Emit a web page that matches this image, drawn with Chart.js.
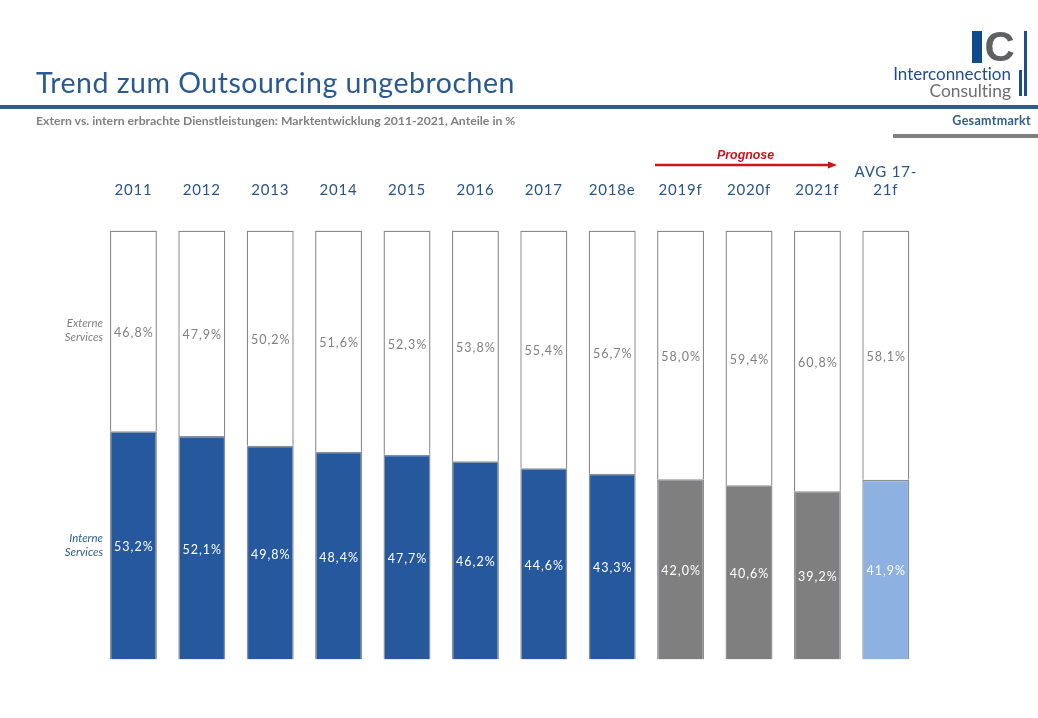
<!DOCTYPE html>
<html lang="de">
<head>
<meta charset="utf-8">
<title>Trend zum Outsourcing ungebrochen</title>
<script src="https://cdn.jsdelivr.net/npm/chart.js@4"></script>
<style>
html,body{margin:0;padding:0;background:#fff;width:1038px;height:718px;overflow:hidden}
#wrap{position:relative;width:1038px;height:718px;font-family:Lato,sans-serif;font-variant-ligatures:none}
canvas{position:absolute;left:0;top:0}
.t{position:absolute;white-space:nowrap;line-height:1}
.r{position:absolute}
</style>
</head>
<body>
<div id="wrap">
<canvas id="c" width="1038" height="718"></canvas>
<div class="t" id="title" style="left:36px;top:68px;font-size:28.5px;color:#2a5a92;letter-spacing:.5px">Trend zum Outsourcing ungebrochen</div>
<div class="r" style="left:0;top:105px;width:1038px;height:4px;background:#2f5d8c"></div>
<div class="t" style="left:36px;top:115px;font-size:12.2px;font-weight:700;color:#7f7f7f;letter-spacing:.02px">Extern vs. intern erbrachte Dienstleistungen: Marktentwicklung 2011-2021, Anteile in %</div>
<div class="t" style="right:7px;top:115px;font-size:12.5px;font-weight:700;color:#2f5d8c;letter-spacing:.3px">Gesamtmarkt</div>
<div class="r" style="left:893px;top:134px;width:145px;height:4px;background:#808080"></div>
<div class="r" style="left:972px;top:31px;width:10px;height:32px;background:#0f4a8a"></div>
<div class="t" style="left:984.5px;top:25.5px;font-family:'Liberation Sans',sans-serif;font-weight:700;font-size:42px;color:#5f6062">C</div>
<div class="r" style="left:1024px;top:31px;width:3px;height:65px;background:#1f4e8c"></div>
<div class="r" style="left:1019px;top:70px;width:3px;height:26px;background:#1f4e8c"></div>
<div class="t" style="right:27px;top:65px;font-size:17px;color:#1f4e8c">Interconnection</div>
<div class="t" style="right:27px;top:82px;font-size:17.4px;color:#6d6e70">Consulting</div>
<div class="t" style="left:717px;top:149px;font-family:'Liberation Sans',sans-serif;font-weight:700;font-style:italic;font-size:12.4px;color:#c8141c">Prognose</div>
<svg class="r" style="left:650px;top:158px" width="195" height="14"><line x1="5" y1="7" x2="180" y2="7" stroke="#d01418" stroke-width="2.4"/><path d="M178 3.4L187 7L178 10.6Z" fill="#d01418"/></svg>
<div class="t" style="right:935px;top:315.5px;font-size:11.4px;font-style:italic;color:#7f7f7f;text-align:right;line-height:14px">Externe<br>Services</div>
<div class="t" style="right:935px;top:531px;font-size:11.4px;font-style:italic;color:#2f5d8c;text-align:right;line-height:14px">Interne<br>Services</div>
</div>
<script>
const categories = ['2011','2012','2013','2014','2015','2016','2017','2018e','2019f','2020f','2021f',['AVG 17-','21f']];
const interneServices = [53.2,52.1,49.8,48.4,47.7,46.2,44.6,43.3,42.0,40.6,39.2,41.9];
const externeServices = [46.8,47.9,50.2,51.6,52.3,53.8,55.4,56.7,58.0,59.4,60.8,58.1];
const interneColors = ['#25589c','#25589c','#25589c','#25589c','#25589c','#25589c','#25589c','#25589c','#7f7f7f','#7f7f7f','#7f7f7f','#8db1e1'];

const fmt = v => v.toFixed(1).replace('.', ',') + '%';

const spacingPlugin = {
  id: 'spacing',
  beforeDraw(chart) { chart.ctx.letterSpacing = '0.8px'; }
};
const valueLabels = {
  id: 'valueLabels',
  afterDatasetsDraw(chart) {
    const ctx = chart.ctx;
    ctx.save();
    ctx.font = '12.5px Lato, sans-serif';
    ctx.letterSpacing = '1px';
    ctx.textAlign = 'center';
    ctx.textBaseline = 'middle';
    chart.data.datasets.forEach((ds, di) => {
      chart.getDatasetMeta(di).data.forEach((bar, i) => {
        const p = bar.getProps(['x','y','base'], true);
        ctx.fillStyle = di === 0 ? '#ffffff' : '#7f7f7f';
        ctx.fillText(fmt(ds.data[i]), p.x + 0.5, (p.y + p.base) / 2 + 1.8);
      });
    });
    ctx.restore();
  }
};

new Chart(document.getElementById('c'), {
  type: 'bar',
  data: {
    labels: categories,
    datasets: [
      { label: 'Interne Services', data: interneServices, backgroundColor: interneColors, borderColor: '#8a8f96', borderWidth: 1.4 },
      { label: 'Externe Services', data: externeServices, backgroundColor: '#ffffff', borderColor: '#8a8a8a', borderWidth: 1.4 }
    ]
  },
  options: {
    responsive: false,
    animation: false,
    devicePixelRatio: 1,
    barPercentage: 0.687,
    categoryPercentage: 1,
    layout: { padding: { left: 99.2, right: 118, top: 0, bottom: 58.5 } },
    plugins: { legend: { display: false }, tooltip: { enabled: false }, title: { display: false } },
    scales: {
      x: {
        position: 'top',
        stacked: true,
        grid: { display: false, drawTicks: false },
        border: { display: false },
        afterFit(scale) { scale.height = 230.5; },
        ticks: {
          autoSkip: false,
          maxRotation: 0,
          minRotation: 0,
          padding: 31,
          color: '#2a5488',
          font: { family: 'Lato, sans-serif', size: 15, lineHeight: 1.2 }
        }
      },
      y: { display: false, stacked: true, min: 0, max: 100 }
    }
  },
  plugins: [spacingPlugin, valueLabels]
});
</script>
</body>
</html>
